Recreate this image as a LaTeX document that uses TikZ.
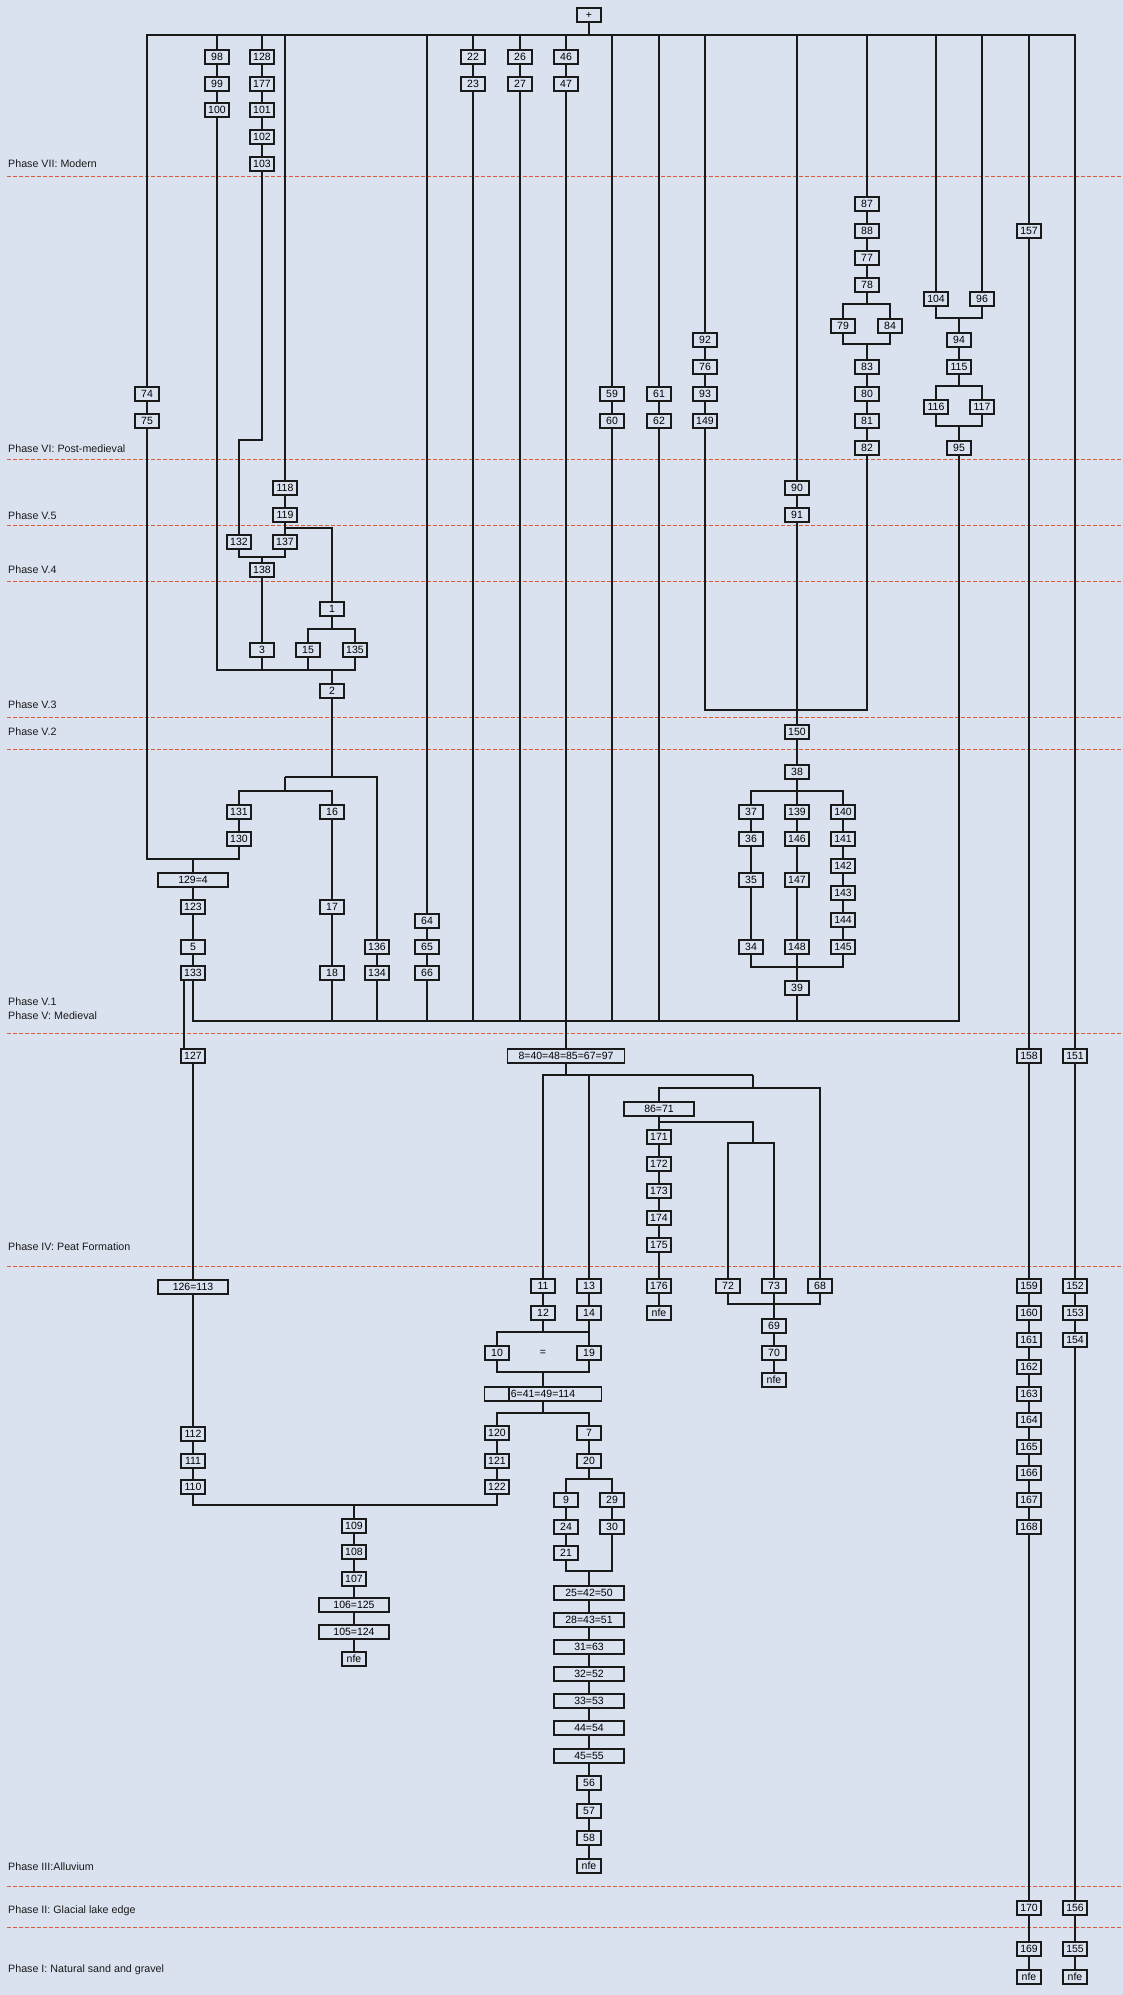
\documentclass[tikz,border=0pt]{standalone}
\usepackage{fontspec}
\setmainfont{Liberation Sans}
\usepackage{tikz}
\usepackage{xcolor}
\definecolor{paper}{HTML}{DAE2F0}
\definecolor{phasered}{HTML}{DD5A3A}
\definecolor{ink}{HTML}{1A1A1A}

\tikzset{
  ctx/.style={draw=ink, line width=1.6pt, fill=paper, minimum width=24pt,
    minimum height=14pt, inner sep=0pt, font=\fontsize{10.5}{12}\selectfont},
  ctxwide/.style={ctx, minimum width=70pt},
  ctxlong/.style={ctx, minimum width=117pt},
  link/.style={draw=ink, line width=1.25pt},
  phase/.style={anchor=west, inner sep=0pt, text=ink,
    font=\fontsize{10.7}{12}\selectfont},
  phaseline/.style={draw=phasered, line width=1pt, dash pattern=on 4pt off 2pt},
}

\begin{document}
\begin{tikzpicture}[x=1pt, y=-1pt]
    \useasboundingbox (0,0) rectangle (1123,1995);
    \fill[paper] (0,0) rectangle (1123,1995);

    % Phase divisions
    \draw[phaseline] (7,176) -- (1123,176);
    \draw[phaseline] (7,459) -- (1123,459);
    \draw[phaseline] (7,525) -- (1123,525);
    \draw[phaseline] (7,581) -- (1123,581);
    \draw[phaseline] (7,717) -- (1123,717);
    \draw[phaseline] (7,749) -- (1123,749);
    \draw[phaseline] (7,1033) -- (1123,1033);
    \draw[phaseline] (7,1266) -- (1123,1266);
    \draw[phaseline] (7,1886) -- (1123,1886);
    \draw[phaseline] (7,1927) -- (1123,1927);

    % Phase labels
    \node[phase] (p7) at (8,164) {Phase VII: Modern};
    \node[phase] (p6) at (8,449) {Phase VI: Post-medieval};
    \node[phase] (p55) at (8,516) {Phase V.5};
    \node[phase] (p54) at (8,570) {Phase V.4};
    \node[phase] (p53) at (8,705) {Phase V.3};
    \node[phase] (p52) at (8,732) {Phase V.2};
    \node[phase] (p51) at (8,1002) {Phase V.1};
    \node[phase] (p5) at (8,1016) {Phase V: Medieval};
    \node[phase] (p4) at (8,1247) {Phase IV: Peat Formation};
    \node[phase] (p3) at (8,1867) {Phase III:Alluvium};
    \node[phase] (p2) at (8,1911) {Phase II: Glacial lake edge};
    \node[phase] (p1) at (8,1970) {Phase I: Natural sand and gravel};

    % Top
    \node[ctx] (top) at (589,15) {+};
    \coordinate (barL) at (147,35);
    \coordinate (barR) at (1075,35);

    % Modern and post-medieval contexts
    \node[ctx] (n74) at (147,394) {74};
    \node[ctx] (n75) at (147,421) {75};
    \node[ctx] (n98) at (217,57) {98};
    \node[ctx] (n99) at (217,84) {99};
    \node[ctx] (n100) at (217,110) {100};
    \node[ctx] (n128) at (262,57) {128};
    \node[ctx] (n177) at (262,84) {177};
    \node[ctx] (n101) at (262,110) {101};
    \node[ctx] (n102) at (262,137) {102};
    \node[ctx] (n103) at (262,164) {103};
    \node[ctx] (n22) at (473,57) {22};
    \node[ctx] (n23) at (473,84) {23};
    \node[ctx] (n26) at (520,57) {26};
    \node[ctx] (n27) at (520,84) {27};
    \node[ctx] (n46) at (566,57) {46};
    \node[ctx] (n47) at (566,84) {47};
    \node[ctx] (n59) at (612,394) {59};
    \node[ctx] (n60) at (612,421) {60};
    \node[ctx] (n61) at (659,394) {61};
    \node[ctx] (n62) at (659,421) {62};
    \node[ctx] (n92) at (705,340) {92};
    \node[ctx] (n76) at (705,367) {76};
    \node[ctx] (n93) at (705,394) {93};
    \node[ctx] (n149) at (705,421) {149};
    \node[ctx] (n87) at (867,204) {87};
    \node[ctx] (n88) at (867,231) {88};
    \node[ctx] (n77) at (867,258) {77};
    \node[ctx] (n78) at (867,285) {78};
    \node[ctx] (n79) at (843,326) {79};
    \node[ctx] (n84) at (890,326) {84};
    \node[ctx] (n83) at (867,367) {83};
    \node[ctx] (n80) at (867,394) {80};
    \node[ctx] (n81) at (867,421) {81};
    \node[ctx] (n82) at (867,448) {82};
    \node[ctx] (n104) at (936,299) {104};
    \node[ctx] (n96) at (982,299) {96};
    \node[ctx] (n94) at (959,340) {94};
    \node[ctx] (n115) at (959,367) {115};
    \node[ctx] (n116) at (936,407) {116};
    \node[ctx] (n117) at (982,407) {117};
    \node[ctx] (n95) at (959,448) {95};
    \node[ctx] (n157) at (1029,231) {157};

    % Phase V
    \node[ctx] (n118) at (285,488) {118};
    \node[ctx] (n119) at (285,515) {119};
    \node[ctx] (n132) at (239,542) {132};
    \node[ctx] (n137) at (285,542) {137};
    \node[ctx] (n138) at (262,570) {138};
    \node[ctx] (n1) at (332,609) {1};
    \node[ctx] (n3) at (262,650) {3};
    \node[ctx] (n15) at (308,650) {15};
    \node[ctx] (n135) at (355,650) {135};
    \node[ctx] (n2) at (332,691) {2};
    \node[ctx] (n131) at (239,812) {131};
    \node[ctx] (n130) at (239,839) {130};
    \node[ctx] (n16) at (332,812) {16};
    \node[ctx] (n17) at (332,907) {17};
    \node[ctx] (n18) at (332,973) {18};
    \node[ctx] (n136) at (377,947) {136};
    \node[ctx] (n134) at (377,973) {134};
    \node[ctxwide] (n129) at (193,880) {129=4};
    \node[ctx] (n123) at (193,907) {123};
    \node[ctx] (n5) at (193,947) {5};
    \node[ctx] (n133) at (193,973) {133};
    \node[ctx] (n64) at (427,921) {64};
    \node[ctx] (n65) at (427,947) {65};
    \node[ctx] (n66) at (427,973) {66};
    \node[ctx] (n90) at (797,488) {90};
    \node[ctx] (n91) at (797,515) {91};
    \node[ctx] (n150) at (797,732) {150};
    \node[ctx] (n38) at (797,772) {38};
    \node[ctx] (n37) at (751,812) {37};
    \node[ctx] (n36) at (751,839) {36};
    \node[ctx] (n35) at (751,880) {35};
    \node[ctx] (n34) at (751,947) {34};
    \node[ctx] (n139) at (797,812) {139};
    \node[ctx] (n146) at (797,839) {146};
    \node[ctx] (n147) at (797,880) {147};
    \node[ctx] (n148) at (797,947) {148};
    \node[ctx] (n140) at (843,812) {140};
    \node[ctx] (n141) at (843,839) {141};
    \node[ctx] (n142) at (843,866) {142};
    \node[ctx] (n143) at (843,893) {143};
    \node[ctx] (n144) at (843,920) {144};
    \node[ctx] (n145) at (843,947) {145};
    \node[ctx] (n39) at (797,988) {39};

    % Peat formation and below
    \node[ctx] (n127) at (193,1056) {127};
    \node[ctxwide] (n126) at (193,1287) {126=113};
    \node[ctx] (n112) at (193,1434) {112};
    \node[ctx] (n111) at (193,1461) {111};
    \node[ctx] (n110) at (193,1487) {110};
    \node[ctx] (n109) at (354,1526) {109};
    \node[ctx] (n108) at (354,1552) {108};
    \node[ctx] (n107) at (354,1579) {107};
    \node[ctxwide] (n106) at (354,1605) {106=125};
    \node[ctxwide] (n105) at (354,1632) {105=124};
    \node[ctx] (nfeC) at (354,1659) {nfe};
    \node[ctxlong] (n8) at (566,1056) {8=40=48=85=67=97};
    \node[ctxwide] (n86) at (659,1109) {86=71};
    \node[ctx] (n171) at (659,1137) {171};
    \node[ctx] (n172) at (659,1164) {172};
    \node[ctx] (n173) at (659,1191) {173};
    \node[ctx] (n174) at (659,1218) {174};
    \node[ctx] (n175) at (659,1245) {175};
    \node[ctx] (n176) at (659,1286) {176};
    \node[ctx] (nfeA) at (659,1313) {nfe};
    \node[ctx] (n72) at (728,1286) {72};
    \node[ctx] (n73) at (774,1286) {73};
    \node[ctx] (n68) at (820,1286) {68};
    \node[ctx] (n69) at (774,1326) {69};
    \node[ctx] (n70) at (774,1353) {70};
    \node[ctx] (nfeB) at (774,1380) {nfe};
    \node[ctx] (n11) at (543,1286) {11};
    \node[ctx] (n12) at (543,1313) {12};
    \node[ctx] (n13) at (589,1286) {13};
    \node[ctx] (n14) at (589,1313) {14};
    \node[ctx] (n10) at (497,1353) {10};
    \node[font=\fontsize{10.5}{12}\selectfont] (eq) at (543,1353) {=};
    \node[ctx] (n19) at (589,1353) {19};
    \node[ctxlong] (n6) at (543,1394) {6=41=49=114};
    \draw[line width=1.4pt, ink] ([xshift=-34pt]n6.north) -- ([xshift=-34pt]n6.south);
    \node[ctx] (n120) at (497,1433) {120};
    \node[ctx] (n121) at (497,1461) {121};
    \node[ctx] (n122) at (497,1487) {122};
    \node[ctx] (n7) at (589,1433) {7};
    \node[ctx] (n20) at (589,1461) {20};
    \node[ctx] (n9) at (566,1500) {9};
    \node[ctx] (n24) at (566,1527) {24};
    \node[ctx] (n21) at (566,1553) {21};
    \node[ctx] (n29) at (612,1500) {29};
    \node[ctx] (n30) at (612,1527) {30};
    \node[ctxwide] (n25) at (589,1593) {25=42=50};
    \node[ctxwide] (n28) at (589,1620) {28=43=51};
    \node[ctxwide] (n31) at (589,1647) {31=63};
    \node[ctxwide] (n32) at (589,1674) {32=52};
    \node[ctxwide] (n33) at (589,1701) {33=53};
    \node[ctxwide] (n44) at (589,1728) {44=54};
    \node[ctxwide] (n45) at (589,1756) {45=55};
    \node[ctx] (n56) at (589,1783) {56};
    \node[ctx] (n57) at (589,1811) {57};
    \node[ctx] (n58) at (589,1838) {58};
    \node[ctx] (nfeD) at (589,1866) {nfe};

    % Right hand sequences
    \node[ctx] (n158) at (1029,1056) {158};
    \node[ctx] (n159) at (1029,1286) {159};
    \node[ctx] (n160) at (1029,1313) {160};
    \node[ctx] (n161) at (1029,1340) {161};
    \node[ctx] (n162) at (1029,1367) {162};
    \node[ctx] (n163) at (1029,1394) {163};
    \node[ctx] (n164) at (1029,1420) {164};
    \node[ctx] (n165) at (1029,1447) {165};
    \node[ctx] (n166) at (1029,1473) {166};
    \node[ctx] (n167) at (1029,1500) {167};
    \node[ctx] (n168) at (1029,1527) {168};
    \node[ctx] (n170) at (1029,1908) {170};
    \node[ctx] (n169) at (1029,1949) {169};
    \node[ctx] (nfeE) at (1029,1977) {nfe};
    \node[ctx] (n151) at (1075,1056) {151};
    \node[ctx] (n152) at (1075,1286) {152};
    \node[ctx] (n153) at (1075,1313) {153};
    \node[ctx] (n154) at (1075,1340) {154};
    \node[ctx] (n156) at (1075,1908) {156};
    \node[ctx] (n155) at (1075,1949) {155};
    \node[ctx] (nfeF) at (1075,1977) {nfe};

    % Junctions
    \coordinate (k103) at (239,440);
    \coordinate (k119) at (285,528);
    \coordinate (j138) at (262,557);
    \coordinate (b1) at (332,629);
    \coordinate (j2) at (332,670);
    \coordinate (j2b) at (332,777);
    \coordinate (j2c) at (285,777);
    \coordinate (j2d) at (285,791);
    \coordinate (j129) at (193,859);
    \coordinate (jVL) at (193,1021);
    \coordinate (jVR) at (959,1021);
    \coordinate (j150) at (797,710);
    \coordinate (b38) at (797,791);
    \coordinate (j39) at (797,967);
    \coordinate (b78) at (867,304);
    \coordinate (j83) at (867,344);
    \coordinate (j94) at (959,318);
    \coordinate (b115) at (959,386);
    \coordinate (j95) at (959,426);
    \coordinate (j8) at (566,1075);
    \coordinate (j8r) at (753,1075);
    \coordinate (j86) at (753,1088);
    \coordinate (k86) at (659,1122);
    \coordinate (j72) at (753,1143);
    \coordinate (j69) at (774,1304);
    \coordinate (j10) at (543,1332);
    \coordinate (j6) at (543,1372);
    \coordinate (b6) at (543,1413);
    \coordinate (b20) at (589,1479);
    \coordinate (j25) at (589,1571);
    \coordinate (j109) at (354,1505);

    \begin{scope}[link]
    % Top bar
    \draw (top) -- (top |- barL);
    \draw (n74) -- (n74 |- barL) -- (barR) -- (n151);
    \draw (n98) -- (n98 |- barL);
    \draw (n128) -- (n128 |- barL);
    \draw (n118) -- (n118 |- barL);
    \draw (n64) -- (n64 |- barL);
    \draw (n22) -- (n22 |- barL);
    \draw (n26) -- (n26 |- barL);
    \draw (n46) -- (n46 |- barL);
    \draw (n59) -- (n59 |- barL);
    \draw (n61) -- (n61 |- barL);
    \draw (n92) -- (n92 |- barL);
    \draw (n90) -- (n90 |- barL);
    \draw (n87) -- (n87 |- barL);
    \draw (n104) -- (n104 |- barL);
    \draw (n96) -- (n96 |- barL);
    \draw (n157) -- (n157 |- barL);

    % Left block
    \draw (n74) -- (n75);
    \draw (n98) -- (n99) -- (n100);
    \draw (n128) -- (n177) -- (n101) -- (n102) -- (n103);
    \draw (n103) |- (k103) -- (n132);
    \draw (n118) -- (n119) -- (n137);
    \draw (k119) -| (n1);
    \draw (n132) |- (j138) -| (n137);
    \draw (j138) -- (n138) -- (n3);
    \draw (n1) -- (b1);
    \draw (n15) |- (b1) -| (n135);
    \draw (n100) |- (j2) -| (n135);
    \draw (n3) -- (n3 |- j2);
    \draw (n15) -- (n15 |- j2);
    \draw (j2) -- (n2) -- (j2b);
    \draw (j2c) -| (n136);
    \draw (j2c) -- (j2d);
    \draw (n131) |- (j2d) -| (n16);
    \draw (n131) -- (n130);
    \draw (n75) |- (j129) -| (n130);
    \draw (j129) -- (n129) -- (n123) -- (n5) -- (n133);
    \draw (n16) -- (n17) -- (n18);
    \draw (n136) -- (n134);
    \draw (n64) -- (n65) -- (n66);
    \draw (n22) -- (n23);
    \draw (n26) -- (n27);
    \draw (n46) -- (n47) -- (n8);
    \draw (n59) -- (n60);
    \draw (n61) -- (n62);

    % Right block
    \draw (n92) -- (n76) -- (n93) -- (n149);
    \draw (n149) |- (j150) -| (n82);
    \draw (n90) -- (n91) -- (n150) -- (n38) -- (n139);
    \draw (n37) |- (b38) -| (n140);
    \draw (n37) -- (n36) -- (n35) -- (n34);
    \draw (n139) -- (n146) -- (n147) -- (n148) -- (n39);
    \draw (n140) -- (n141) -- (n142) -- (n143) -- (n144) -- (n145);
    \draw (n34) |- (j39) -| (n145);
    \draw (n87) -- (n88) -- (n77) -- (n78) -- (b78);
    \draw (n79) |- (b78) -| (n84);
    \draw (n79) |- (j83) -| (n84);
    \draw (j83) -- (n83) -- (n80) -- (n81) -- (n82);
    \draw (n104) |- (j94) -| (n96);
    \draw (j94) -- (n94) -- (n115) -- (b115);
    \draw (n116) |- (b115) -| (n117);
    \draw (n116) |- (j95) -| (n117);
    \draw (j95) -- (n95);

    % Base of phase V
    \draw (n133) -- (jVL) -- (jVR) -- (n95);
    \draw (n18) -- (n18 |- jVL);
    \draw (n134) -- (n134 |- jVL);
    \draw (n66) -- (n66 |- jVL);
    \draw (n23) -- (n23 |- jVL);
    \draw (n27) -- (n27 |- jVL);
    \draw (n60) -- (n60 |- jVL);
    \draw (n62) -- (n62 |- jVL);
    \draw (n39) -- (n39 |- jVL);

    % Lower sequences
    \draw ([xshift=-9pt]n133.south) -- ([xshift=-9pt]n127.north);
    \draw (n127) -- (n126) -- (n112) -- (n111) -- (n110);
    \draw (n110) |- (j109) -| (n122);
    \draw (j109) -- (n109) -- (n108) -- (n107) -- (n106) -- (n105) -- (nfeC);
    \draw (n8) -- (j8);
    \draw (n11) |- (j8r);
    \draw (n13) -- (n13 |- j8r);
    \draw (j8r) -- (j86);
    \draw (n86) |- (j86) -| (n68);
    \draw (n86) -- (n171) -- (n172) -- (n173) -- (n174) -- (n175) -- (n176) -- (nfeA);
    \draw (k86) -| (j72);
    \draw (n72) |- (j72) -| (n73);
    \draw (n72) |- (j69) -| (n68);
    \draw (n73) -- (n69) -- (n70) -- (nfeB);
    \draw (n11) -- (n12) -- (j10);
    \draw (n10) |- (j10) -| (n19);
    \draw (n13) -- (n14) -- (n19);
    \draw (n10) |- (j6) -| (n19);
    \draw (j6) -- (n6) -- (b6);
    \draw (n120) |- (b6) -| (n7);
    \draw (n120) -- (n121) -- (n122);
    \draw (n7) -- (n20) -- (b20);
    \draw (n9) |- (b20) -| (n29);
    \draw (n9) -- (n24) -- (n21);
    \draw (n29) -- (n30);
    \draw (n21) |- (j25) -| (n30);
    \draw (j25) -- (n25) -- (n28) -- (n31) -- (n32) -- (n33) -- (n44) -- (n45) -- (n56) -- (n57) -- (n58) -- (nfeD);
    \draw (n157) -- (n158) -- (n159) -- (n160) -- (n161) -- (n162) -- (n163) -- (n164) -- (n165) -- (n166) -- (n167) -- (n168) -- (n170) -- (n169) -- (nfeE);
    \draw (n151) -- (n152) -- (n153) -- (n154) -- (n156) -- (n155) -- (nfeF);
    \end{scope}
\end{tikzpicture}
\end{document}
